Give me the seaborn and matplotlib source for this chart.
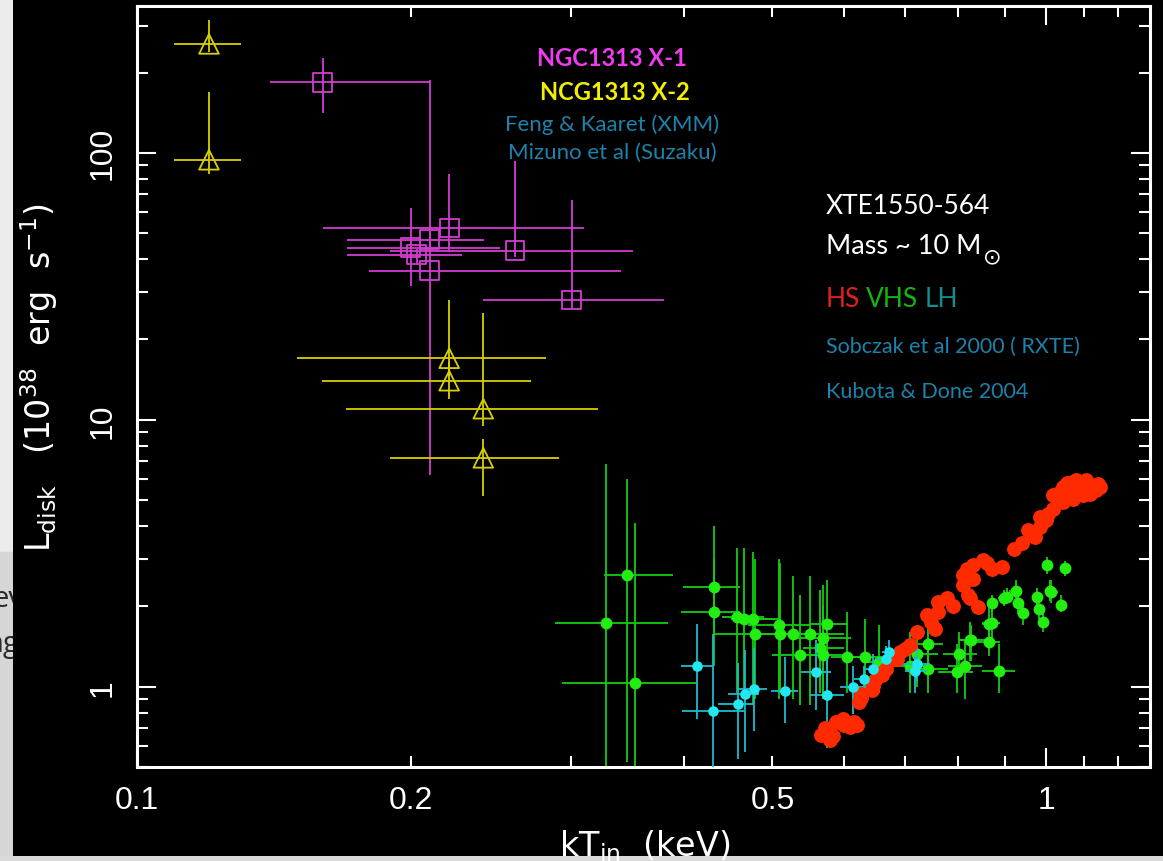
import numpy as np
import matplotlib
matplotlib.use("Agg")
import matplotlib.pyplot as plt
import matplotlib.ticker as mticker
from matplotlib.patches import Rectangle
import seaborn as sns

# ---------------- DATA ----------------
# NGC1313 X-1 (magenta squares): kT, L and the ends of the error bars
x1_kt = np.array([0.160, 0.2205, 0.210, 0.200, 0.203, 0.210, 0.2605, 0.3006])
x1_l = np.array([184, 52.3, 47.2, 44.1, 41.5, 36.2, 43.0, 28.1])
x1_kt_lo = np.array([0.140, 0.160, 0.170, 0.170, 0.170, 0.180, 0.190, 0.240])
x1_kt_hi = np.array([0.210, 0.310, 0.241, 0.251, 0.228, 0.341, 0.351, 0.380])
x1_l_lo = np.array([141.6, 42.5, 44.0, 31.7, 38.5, 6.2, 40.7, 26.0])
x1_l_hi = np.array([226, 83, 50.0, 62, 43.5, 188, 93.6, 66.7])

# NGC1313 X-2 (yellow triangles)
x2_kt = np.array([0.120, 0.120, 0.2205, 0.2205, 0.2404, 0.2404])
x2_l = np.array([256, 94.2, 17.0, 14.0, 11.0, 7.2])
x2_kt_lo = np.array([0.1097, 0.1097, 0.150, 0.1596, 0.1696, 0.190])
x2_kt_hi = np.array([0.130, 0.130, 0.2815, 0.2711, 0.3215, 0.291])
x2_l_lo = np.array([238, 83.4, 14.6, 12.0, 9.5, 5.2])
x2_l_hi = np.array([315, 169, 28.2, 16.5, 25.2, 8.5])

# XTE1550-564 VHS (green)
vhs_kt = np.array([0.3457, 0.3278, 0.353, 0.431, 0.431, 0.457, 0.465, 0.476, 0.478, 0.508,
                   0.510, 0.527, 0.550, 0.574, 0.569, 0.536, 0.564, 0.569, 0.604, 0.632,
                   0.655, 0.7076, 0.721, 0.742, 0.742, 0.798, 0.802, 0.815, 0.827, 0.866,
                   0.871, 0.888, 0.871, 0.898, 0.927, 0.932, 0.942, 0.977, 0.982, 0.992,
                   1.013, 1.039, 1.002, 1.048, 0.906, 1.010, 0.866, 0.825])
vhs_l = np.array([2.63, 1.737, 1.03, 2.36, 1.91, 1.82, 1.80, 1.80, 1.58, 1.70,
                  1.58, 1.57, 1.58, 1.72, 1.52, 1.31, 1.39, 1.31, 1.29, 1.29,
                  1.24, 1.20, 1.33, 1.45, 1.16, 1.135, 1.33, 1.20, 1.49, 1.47,
                  1.73, 1.148, 2.05, 2.14, 2.29, 2.05, 1.88, 2.17, 1.96, 1.75,
                  2.26, 2.03, 2.85, 2.78, 2.17, 2.29, 1.72, 1.49])
vhs_kt_lo = np.array([0.3264, 0.288, 0.2937, 0.399, 0.397, 0.440, 0.450, 0.460, 0.430, 0.470,
                      0.480, 0.500, 0.520, 0.550, 0.530, 0.500, 0.540, 0.550, 0.580, 0.610,
                      0.630, 0.680, 0.690, 0.720, 0.710, 0.760, 0.770, 0.780, 0.800, 0.840,
                      0.850, 0.851, 0.860, 0.885, 0.910, 0.920, 0.930, 0.965, 0.970, 0.980,
                      1.000, 1.025, 0.990, 1.035, 0.895, 0.998, 0.850, 0.805])
vhs_kt_hi = np.array([0.3885, 0.384, 0.413, 0.460, 0.460, 0.490, 0.500, 0.510, 0.520, 0.550,
                      0.560, 0.560, 0.600, 0.605, 0.610, 0.580, 0.600, 0.600, 0.630, 0.660,
                      0.680, 0.740, 0.760, 0.770, 0.780, 0.830, 0.840, 0.850, 0.860, 0.890,
                      0.890, 0.924, 0.885, 0.910, 0.940, 0.945, 0.955, 0.990, 0.995, 1.005,
                      1.030, 1.055, 1.015, 1.060, 0.918, 1.022, 0.885, 0.845])
vhs_l_lo = np.array([0.52, 0.50, 0.50, 1.60, 1.20, 0.95, 0.90, 0.85, 0.90, 0.90,
                     0.95, 0.90, 0.85, 1.00, 0.90, 0.85, 0.95, 0.90, 0.95, 1.00,
                     0.95, 0.95, 1.00, 1.10, 0.95, 0.95, 1.10, 0.90, 1.25, 1.30,
                     1.50, 0.95, 1.90, 2.00, 2.10, 1.90, 1.70, 2.00, 1.80, 1.60,
                     2.05, 1.90, 2.65, 2.60, 2.05, 2.10, 1.45, 1.25])
vhs_l_hi = np.array([6.0, 6.84, 4.1, 4.0, 3.0, 3.3, 3.3, 3.2, 3.0, 3.0,
                     2.9, 2.6, 2.6, 2.5, 2.4, 2.2, 2.3, 2.0, 1.9, 1.8,
                     1.7, 1.6, 1.7, 1.8, 1.45, 1.45, 1.6, 1.5, 1.7, 1.65,
                     1.95, 1.45, 2.2, 2.3, 2.5, 2.2, 2.05, 2.35, 2.1, 1.9,
                     2.5, 2.2, 3.05, 2.95, 2.35, 2.5, 2.0, 1.75])

# XTE1550-564 LH (cyan)
lh_kt = np.array([0.4134, 0.430, 0.458, 0.467, 0.477, 0.516, 0.559, 0.574, 0.613, 0.630,
                  0.645, 0.666, 0.672, 0.721, 0.718])
lh_l = np.array([1.195, 0.808, 0.861, 0.936, 0.983, 0.96, 1.135, 0.928, 0.997, 1.065,
                 1.16, 1.27, 1.35, 1.22, 1.14])
lh_kt_lo = np.array([0.397, 0.398, 0.4355, 0.447, 0.458, 0.498, 0.537, 0.550, 0.594, 0.615,
                     0.630, 0.650, 0.660, 0.690, 0.700])
lh_kt_hi = np.array([0.430, 0.4654, 0.477, 0.483, 0.493, 0.534, 0.580, 0.600, 0.634, 0.645,
                     0.660, 0.680, 0.685, 0.745, 0.740])
lh_l_lo = np.array([0.754, 0.45, 0.535, 0.57, 0.68, 0.73, 0.82, 0.59, 0.79, 0.92,
                    1.00, 1.12, 1.20, 1.05, 0.95])
lh_l_hi = np.array([1.72, 1.58, 1.23, 1.37, 1.39, 1.29, 1.50, 1.28, 1.20, 1.20,
                    1.32, 1.42, 1.50, 1.40, 1.30])

# XTE1550-564 HS (red)
hs_kt = np.array([0.571, 0.576, 0.583, 0.578, 0.565, 0.598, 0.609, 0.620, 0.615, 0.622,
                  0.625, 0.625, 0.643, 0.648, 0.645, 0.662, 0.660, 0.666, 0.680, 0.685,
                  0.690, 0.709, 0.721, 0.739, 0.755, 0.760, 0.760, 0.778, 0.811, 0.811,
                  0.821, 0.825, 0.842, 0.832, 0.853, 0.872, 0.832, 0.894, 0.921, 0.956,
                  0.973, 0.985, 0.985, 1.006, 1.018, 1.018, 1.045, 1.045, 1.071, 1.099,
                  1.127, 1.147, 1.099, 1.071, 1.035, 1.118, 1.060, 1.085, 1.110, 1.030,
                  1.135, 1.055, 1.090, 1.120, 1.080, 0.600, 0.588, 0.700, 0.748, 0.790,
                  0.818, 0.860, 0.940, 0.965, 1.000, 1.140, 1.105])
hs_l = np.array([0.70, 0.676, 0.656, 0.63, 0.66, 0.758, 0.706, 0.716, 0.74, 0.877,
                 0.942, 0.91, 0.968, 1.056, 1.01, 1.135, 1.11, 1.16, 1.27, 1.27,
                 1.35, 1.43, 1.60, 1.85, 1.65, 1.905, 2.08, 2.14, 2.61, 2.40,
                 2.21, 2.14, 1.99, 2.85, 2.97, 2.77, 2.54, 2.80, 3.29, 3.85,
                 3.64, 3.96, 4.32, 4.45, 4.64, 5.21, 4.92, 5.60, 5.84, 5.76,
                 5.60, 5.60, 5.21, 5.05, 5.34, 5.28, 5.50, 5.45, 5.45, 4.90,
                 5.45, 5.80, 5.55, 5.70, 5.95, 0.72, 0.74, 1.38, 1.75, 2.00,
                 2.75, 2.90, 3.45, 3.70, 4.20, 5.75, 5.95])

TEXT_BLUE = "#1E82AA"
TEXT_RGB = {"HS": "#E0201A", "VHS": "#14B414", "LH": "#168C8C"}

# ---------------- STYLE ----------------
sns.set_theme(style="ticks")
plt.rcParams["font.family"] = ["Liberation Sans", "DejaVu Sans"]
plt.rcParams["mathtext.fontset"] = "custom"
plt.rcParams["mathtext.rm"] = "DejaVu Sans"
plt.rcParams["mathtext.it"] = "DejaVu Sans:italic"
plt.rcParams["mathtext.bf"] = "DejaVu Sans:bold"

W, H = 1163, 862
fig = plt.figure(figsize=(W / 100, H / 100), dpi=100, facecolor="black")


def fx(p):
    return p / W


def fy(p):
    return 1 - p / H


# slide background peeking through on the left and bottom
strip = fig.add_axes([0, 0, fx(13), 1])
strip.set_xlim(0, 13)
strip.set_ylim(H, 0)
strip.add_patch(Rectangle((0, 0), 13, 553, color="#ECECEC"))
strip.add_patch(Rectangle((0, 553), 13, H - 553, color="#D6D6D6"))
strip.text(-8, 600, "ev", fontsize=21, color="#2A2A2A", va="center",
           family="Open Sans", clip_on=True)
strip.text(-14, 645, "ng", fontsize=21, color="#2A2A2A", va="center",
           family="Open Sans", clip_on=True)
strip.set_xticks([])
strip.set_yticks([])
for s in strip.spines.values():
    s.set_visible(False)

bottom = fig.add_axes([0, 0, 1, 5 / H])
bottom.set_facecolor("#DADADA")
bottom.set_xticks([])
bottom.set_yticks([])
for s in bottom.spines.values():
    s.set_visible(False)

ax = fig.add_axes([fx(137), 1 - 768 / H, fx(1150 - 137), (768 - 7) / H])
ax.set_facecolor("black")
ax.set_xscale("log")
ax.set_yscale("log")
ax.set_xlim(0.1, 1.301)
ax.set_ylim(0.5, 355)


def err(ax, x, y, xlo, xhi, ylo, yhi, color, lw, z):
    ax.errorbar(x, y, xerr=[x - xlo, xhi - x], yerr=[y - ylo, yhi - y],
                fmt="none", ecolor=color, elinewidth=lw, capsize=0, zorder=z)


# error bars
err(ax, vhs_kt, vhs_l, vhs_kt_lo, vhs_kt_hi, vhs_l_lo, vhs_l_hi, "#12CC12", 1.3, 2)
err(ax, lh_kt, lh_l, lh_kt_lo, lh_kt_hi, lh_l_lo, lh_l_hi, "#1CBCCC", 1.3, 4)
err(ax, x1_kt, x1_l, x1_kt_lo, x1_kt_hi, x1_l_lo, x1_l_hi, "#D23CD2", 1.3, 6)
err(ax, x2_kt, x2_l, x2_kt_lo, x2_kt_hi, x2_l_lo, x2_l_hi, "#D8D000", 1.3, 6)

# markers
sns.scatterplot(x=vhs_kt, y=vhs_l, ax=ax, color="#22EE11", s=72, linewidth=0,
                legend=False, zorder=3)
sns.scatterplot(x=hs_kt, y=hs_l, ax=ax, color="#FF2A00", s=115, linewidth=0,
                legend=False, zorder=4)
sns.scatterplot(x=lh_kt, y=lh_l, ax=ax, color="#22E8F2", s=58, linewidth=0,
                legend=False, zorder=5)
sns.scatterplot(x=x1_kt, y=x1_l, ax=ax, marker="s", s=185, color="#D23CD2",
                facecolor="none", edgecolor="#D23CD2", linewidth=1.3,
                legend=False, zorder=7)
sns.scatterplot(x=x2_kt, y=x2_l, ax=ax, marker="^", s=200, color="#D8D000",
                facecolor="none", edgecolor="#D8D000", linewidth=1.3,
                legend=False, zorder=7)

# frame and ticks, PGPLOT-like
for s in ax.spines.values():
    s.set_color("white")
    s.set_linewidth(2.2)
ax.xaxis.set_major_locator(mticker.FixedLocator([0.1, 1.0]))
ax.xaxis.set_major_formatter(mticker.FixedFormatter(["0.1", "1"]))
ax.xaxis.set_minor_locator(mticker.FixedLocator([0.2, 0.3, 0.4, 0.5, 0.6, 0.7, 0.8, 0.9, 1.1, 1.2]))
ax.xaxis.set_minor_formatter(mticker.FixedFormatter(["0.2", "", "", "0.5", "", "", "", "", "", ""]))
ax.yaxis.set_major_locator(mticker.FixedLocator([1, 10, 100]))
ax.yaxis.set_major_formatter(mticker.FixedFormatter(["1", "10", "100"]))
ax.yaxis.set_minor_locator(mticker.FixedLocator(
    [0.5, 0.6, 0.7, 0.8, 0.9, 2, 3, 4, 5, 6, 7, 8, 9,
     20, 30, 40, 50, 60, 70, 80, 90, 200, 300]))
ax.yaxis.set_minor_formatter(mticker.NullFormatter())
ax.tick_params(which="both", direction="in", top=True, right=True,
               color="white", width=1.5, labelcolor="white", labelsize=23)
ax.tick_params(which="major", length=14)
ax.tick_params(which="minor", length=8)
ax.tick_params(axis="x", which="both", pad=13)
ax.tick_params(axis="y", which="both", pad=14, labelrotation=90)
for lab in ax.get_yticklabels():
    lab.set_verticalalignment("center")

# axis titles
fig.text(fx(39), fy(378), r"L$_{\rm disk}$   (10$^{38}$  erg  s$^{-1}$)", rotation=90,
         color="white", fontsize=24, family="DejaVu Sans", ha="center", va="center")
fig.text(fx(645), fy(828), r"kT$_{\rm in}$  (keV)", color="white", fontsize=24,
         family="DejaVu Sans", ha="center", va="top")

# annotations (slide text)
cal = ["Lato", "DejaVu Sans"]
fig.text(fx(612), fy(58), "NGC1313 X-1", color="#F03CF0", fontsize=17,
         weight="bold", family=cal, ha="center", va="center")
fig.text(fx(615), fy(93), "NCG1313 X-2", color="#F2F000", fontsize=17,
         weight="bold", family=cal, ha="center", va="center")
fig.text(fx(612), fy(125), "Feng & Kaaret (XMM)", color=TEXT_BLUE, fontsize=16,
         family=cal, ha="center", va="center")
fig.text(fx(612), fy(153), "Mizuno et al (Suzaku)", color=TEXT_BLUE, fontsize=16,
         family=cal, ha="center", va="center")
fig.text(fx(826), fy(207), "XTE1550-564", color="white", fontsize=19,
         family=cal, ha="left", va="center")
mass = fig.text(fx(826), fy(247), "Mass ~ 10 M", color="white", fontsize=19.5,
                family=cal, ha="left", va="center")
fig.text(fx(826), fy(347), "Sobczak et al 2000 ( RXTE)", color=TEXT_BLUE, fontsize=15.5,
         family=cal, ha="left", va="center")
fig.text(fx(826), fy(392), "Kubota & Done 2004", color=TEXT_BLUE, fontsize=15.5,
         family=cal, ha="left", va="center")

fig.canvas.draw()
rend = fig.canvas.get_renderer()
bb = mass.get_window_extent(rend)
fig.text(bb.x1 / W + fx(2), fy(257), "\u2299", color="white", fontsize=16,
         family=["DejaVu Sans"], ha="left", va="center")

xpos = 826
for word, col in TEXT_RGB.items():
    t = fig.text(fx(xpos), fy(300), word, color=col, fontsize=19, family=cal,
                 ha="left", va="center")
    xpos = t.get_window_extent(rend).x1 + 6

fig.savefig("out.png", dpi=100, facecolor="black")
